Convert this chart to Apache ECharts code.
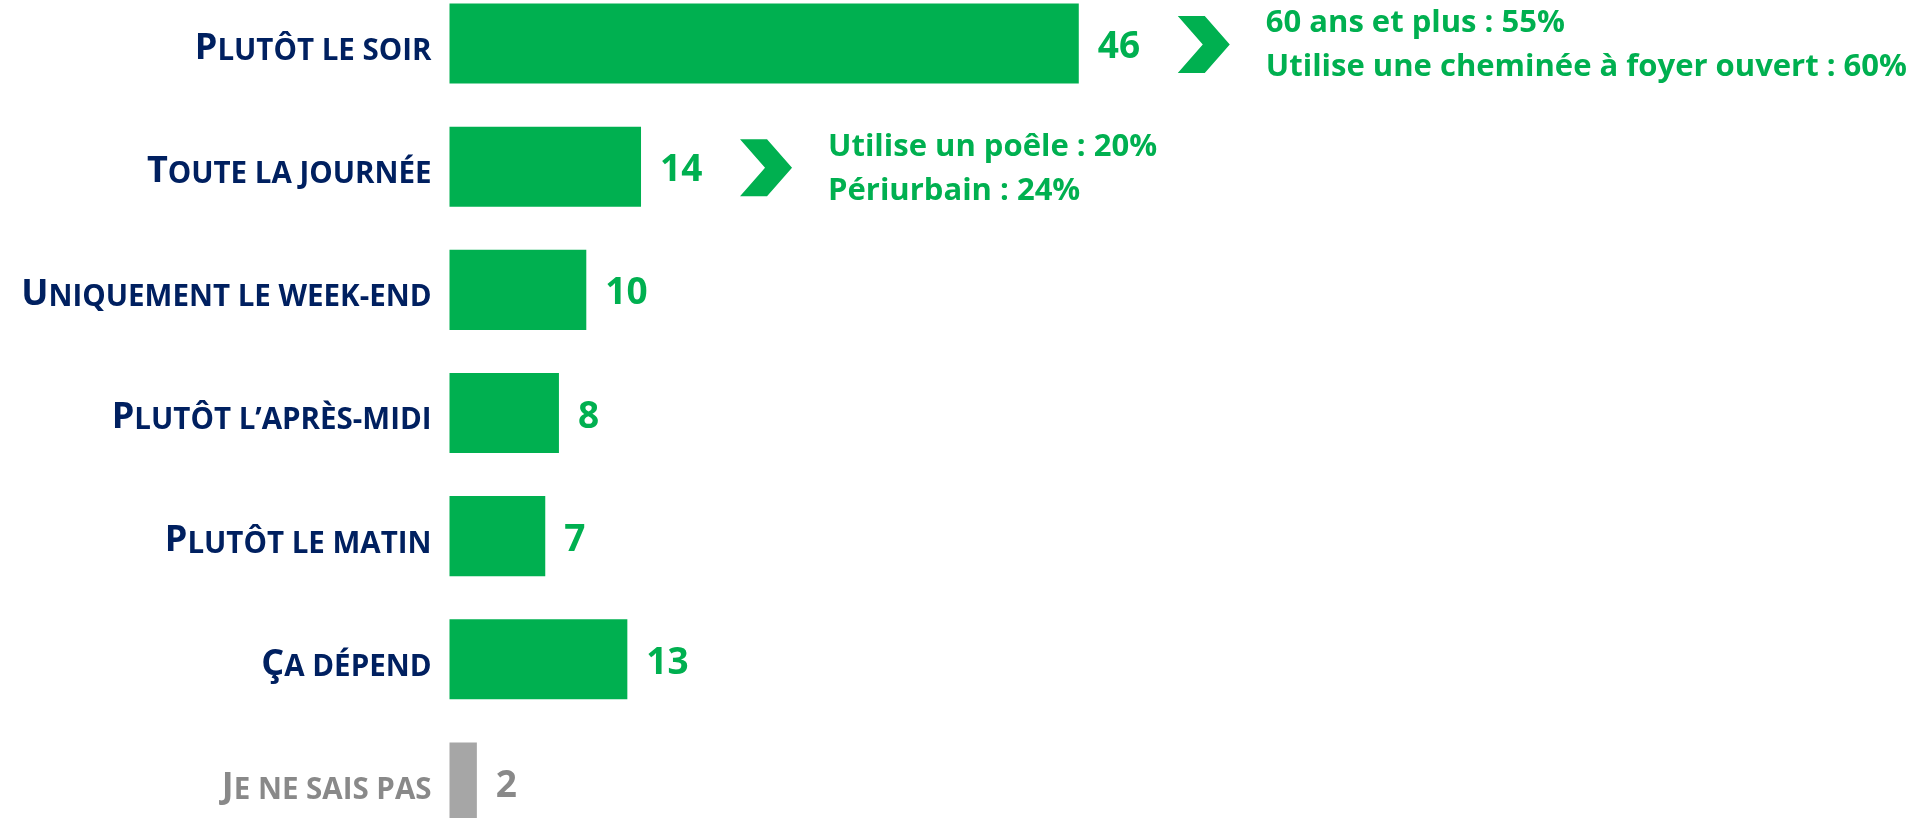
<!DOCTYPE html>
<html>
<head>
<meta charset="utf-8">
<script src="https://cdn.jsdelivr.net/npm/echarts@6/dist/echarts.min.js"></script>
<style>
  html, body { margin: 0; padding: 0; background: #fff; overflow: hidden; width: 1931px; height: 818px; position: relative; }
  /* the plot runs past the top and bottom edge of the page, as in the slide */
  #chart { position: absolute; left: 0; top: -18px; width: 1931px; height: 862px; }
</style>
</head>
<body>
<div id="chart"></div>
<script>
//////////////////////
// data
//////////////////////
var categories = ['Plutôt le soir', 'Toute la journée', 'Uniquement le week-end', 'Plutôt l’après-midi', 'Plutôt le matin', 'Ça dépend', 'Je ne sais pas'];
var values = [46, 14, 10, 8, 7, 13, 2];
var neutralCats = ['Je ne sais pas'];

// notes next to some bars
var noteCats = ['Plutôt le soir', 'Toute la journée'];
var noteLines = [
    ['60 ans et plus : 55%', 'Utilise une cheminée à foyer ouvert : 60%'],
    ['Utilise un poêle : 20%', 'Périurbain : 24%']
];

var GREEN = '#00b050';
var NAVY = '#002060';
var GREY_BAR = '#a6a6a6';
var GREY_TXT = '#898989';
var FONT = '"Open Sans", sans-serif';

var mychart = echarts.init(document.getElementById('chart'));

function isNeutral(name){
    return neutralCats.indexOf(name) >= 0;
}

// fake small caps: first letter big, rest upper case smaller
function capsLabel(name){
    var first = name.charAt(0).toUpperCase();
    var rest = name.slice(1).toUpperCase();
    if(isNeutral(name))
        return '{bigG|' + first + '}{smG|' + rest + '}';
    return '{big|' + first + '}{sm|' + rest + '}';
}

var barData = values.map(function(v, i){
    var neutral = isNeutral(categories[i]);
    return {
        value: v,
        itemStyle: { color: neutral ? GREY_BAR : GREEN },
        label: { color: neutral ? GREY_TXT : GREEN }
    };
});

var noteData = noteCats.map(function(c, i){
    var idx = categories.indexOf(c);
    return [values[idx], idx, i];
});

function renderNote(params, api){
    var p = api.coord([api.value(0), api.value(1)]);
    var lines = noteLines[api.value(2)];
    var x0 = p[0] + 99;
    var y0 = p[1] + 1;
    var w = 52, h = 57, arm = 27;
    return {
        type: 'group',
        children: [
            {
                type: 'polygon',
                shape: { points: [
                    [x0, y0 - h / 2], [x0 + arm, y0 - h / 2], [x0 + w, y0],
                    [x0 + arm, y0 + h / 2], [x0, y0 + h / 2], [x0 + arm - 2, y0]
                ] },
                style: { fill: GREEN }
            },
            {
                type: 'text', x: x0 + 88, y: y0 - 21,
                style: { text: lines[0], fill: GREEN, fontSize: 31, fontWeight: 'bold', fontFamily: FONT, verticalAlign: 'middle' }
            },
            {
                type: 'text', x: x0 + 88, y: y0 + 23,
                style: { text: lines[1], fill: GREEN, fontSize: 31, fontWeight: 'bold', fontFamily: FONT, verticalAlign: 'middle' }
            }
        ]
    };
}

var chart_option = {
    animation: false,
    grid: {
        left: 449.5,
        right: 113.5,
        top: 0,
        bottom: 0
    },
    xAxis: {
        type: 'value',
        min: 0,
        max: 100,
        show: false
    },
    yAxis: {
        type: 'category',
        inverse: true,
        data: categories,
        axisLine: { show: false },
        axisTick: { show: false },
        axisLabel: {
            margin: 18,
            padding: [10, 0, 0, 0],
            formatter: capsLabel,
            rich: {
                big: { fontSize: 36, fontWeight: 'bold', fontFamily: FONT, color: NAVY, verticalAlign: 'bottom', lineHeight: 36 },
                sm: { fontSize: 29.5, fontWeight: 'bold', fontFamily: FONT, color: NAVY, verticalAlign: 'bottom', lineHeight: 31.5 },
                bigG: { fontSize: 36, fontWeight: 'bold', fontFamily: FONT, color: GREY_TXT, verticalAlign: 'bottom', lineHeight: 36 },
                smG: { fontSize: 29.5, fontWeight: 'bold', fontFamily: FONT, color: GREY_TXT, verticalAlign: 'bottom', lineHeight: 31.5 }
            }
        }
    },
    series: [
        {
            type: 'bar',
            barCategoryGap: '35%',
            data: barData,
            label: {
                show: true,
                position: 'right',
                distance: 19,
                offset: [0, 4],
                fontSize: 37,
                fontWeight: 'bold',
                fontFamily: FONT
            }
        },
        {
            type: 'custom',
            renderItem: renderNote,
            encode: { x: 0, y: 1 },
            data: noteData,
            silent: true
        }
    ]
};
mychart.setOption(chart_option);
</script>
</body>
</html>
